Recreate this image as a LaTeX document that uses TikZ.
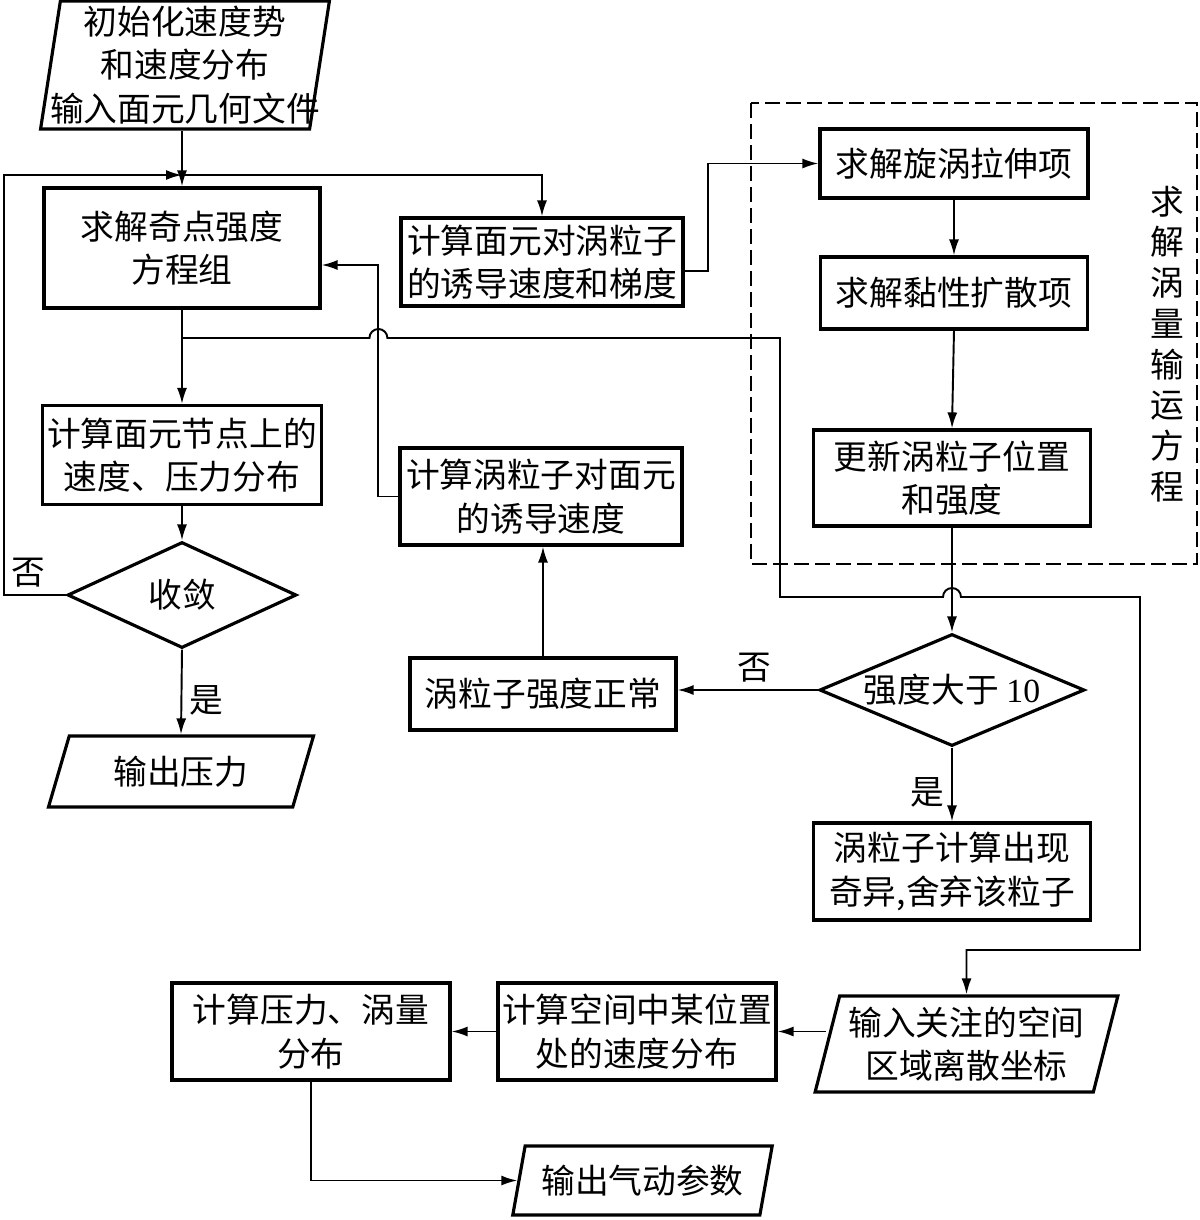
\documentclass[tikz,border=0pt]{standalone}
\usepackage{fontspec}
\setmainfont{Liberation Serif}
\newfontfamily\cjk{Noto Sans CJK SC}
\usetikzlibrary{arrows.meta,shapes.geometric}

\begin{document}
\begin{tikzpicture}[
    box/.style={draw,line width=0.9pt,align=center,inner sep=1pt,
        font=\cjk\fontsize{9.6pt}{12.4pt}\selectfont},
    io/.style={box,trapezium,trapezium left angle=#1,trapezium right angle={180-#1},
        trapezium stretches=true},
    cond/.style={box,diamond,aspect=2.3,inner sep=0pt},
    line/.style={line width=0.55pt},
    arr/.style={line,-{Latex[length=1.6mm,width=1mm]}},
    lbl/.style={font=\cjk\fontsize{9.6pt}{12pt}\selectfont,inner sep=2pt},
    dashbox/.style={line width=0.7pt,dash pattern=on 0.15cm off 0.06cm}
]
    \useasboundingbox (0,0) rectangle (12,-12.2);

    % Left column: panel solution
    \node[io=81,inner xsep=-0.17cm,inner ysep=0pt,minimum width=2.9cm,minimum height=1.28cm] (in1) at (1.85,-0.65)
        {初始化速度势\\和速度分布\\输入面元几何文件};
    \node[box,minimum width=2.76cm,minimum height=1.2cm] (solve) at (1.82,-2.48)
        {求解奇点强度\\方程组};
    \node[box,minimum width=2.79cm,minimum height=0.99cm] (nodal) at (1.82,-4.55)
        {计算面元节点上的\\速度、压力分布};
    \node[cond,minimum width=2.29cm,minimum height=1.06cm] (conv) at (1.82,-5.95) {收敛};
    \node[io=71,minimum width=2.66cm,minimum height=0.71cm] (outp) at (1.81,-7.715) {输出压力};

    % Middle column: induced velocities
    \node[box,minimum width=2.82cm,minimum height=0.88cm] (indv) at (5.42,-2.62)
        {计算面元对涡粒子\\的诱导速度和梯度};
    \node[box,minimum width=2.82cm,minimum height=0.97cm] (indp) at (5.41,-4.965)
        {计算涡粒子对面元\\的诱导速度};
    \node[box,minimum width=2.66cm,minimum height=0.72cm] (norm) at (5.43,-6.94)
        {涡粒子强度正常};

    % Right column: vorticity transport
    \node[box,minimum width=2.68cm,minimum height=0.69cm] (stretch) at (9.54,-1.635)
        {求解旋涡拉伸项};
    \node[box,minimum width=2.67cm,minimum height=0.72cm] (visc) at (9.54,-2.93)
        {求解黏性扩散项};
    \node[box,minimum width=2.77cm,minimum height=0.96cm] (upd) at (9.52,-4.78)
        {更新涡粒子位置\\和强度};
    \node[cond,minimum width=2.65cm,minimum height=1.12cm] (big) at (9.52,-6.90)
        {强度大于 {\rmfamily 10}};
    \node[box,minimum width=2.77cm,minimum height=0.97cm] (disc) at (9.52,-8.715)
        {涡粒子计算出现\\奇异,舍弃该粒子};

    % Dashed group and its title
    \draw[dashbox] (7.51,-1.03) rectangle (11.97,-5.64);
    \node[lbl,align=center,font=\cjk\fontsize{9.6pt}{11.6pt}\selectfont] (vlbl) at (11.67,-3.44)
        {求\\解\\涡\\量\\输\\运\\方\\程};

    % Bottom row: field output
    \node[io=74,minimum width=3.03cm,minimum height=0.96cm] (inreg) at (9.665,-10.44)
        {输入关注的空间\\区域离散坐标};
    \node[box,minimum width=2.78cm,minimum height=0.97cm] (spvel) at (6.37,-10.315)
        {计算空间中某位置\\处的速度分布};
    \node[box,minimum width=2.78cm,minimum height=0.97cm] (pres) at (3.11,-10.315)
        {计算压力、涡量\\分布};
    \node[io=74,minimum width=2.61cm,minimum height=0.69cm] (outa) at (6.425,-11.805)
        {输出气动参数};

    % Turning points
    \coordinate (j1) at (1.82,-1.75);
    \coordinate (lft) at (0.04,-1.75);
    \coordinate (j2) at (1.82,-3.38);
    \coordinate (v1) at ([xshift=-0.2cm]indp.west);
    \coordinate (t1) at (7.80,-3.38);
    \coordinate (t2) at (7.80,-5.97);
    \coordinate (t3) at (11.40,-5.97);
    \coordinate (t4) at (11.40,-9.50);

    % Iteration loop
    \draw[arr] (in1.south -| solve.north) -- (solve.north);
    \draw[arr] (conv.west) -| node[lbl,above,pos=0.3] (no1) {否} (lft) -- (j1);
    \draw[arr] (j1) -| (indv.north);
    \draw[arr] (solve.south) -- (nodal.north);
    \draw[arr] (nodal.south) -- (conv.north);
    \draw[arr] (conv.south) -- node[lbl,right,pos=0.6] (yes1) {是} (outp.north);

    % Vortex particle branch
    \draw[arr] ([yshift=-0.09cm]indv.east) -- ++(0.23,0) |- (stretch.west);
    \draw[arr] (stretch.south) -- (visc.north);
    \draw[arr] (visc.south) -- (upd.north);
    \draw[arr] (upd.south) -- (big.north);
    \draw[arr] (big.south) -- node[lbl,left,pos=0.6] (yes2) {是} (disc.north);
    \draw[arr] (big.west) -- node[lbl,above,pos=0.45] (no2) {否} (big.west -| norm.east);
    \draw[arr] (norm.north) -- (norm.north |- indp.south);
    \draw[arr] (indp.west) -- (v1) |- ([yshift=-0.17cm]solve.east);

    % Long link to the field output, with hops
    \draw[arr] (j2) -- ([xshift=-0.09cm]v1 |- j2) arc[start angle=180,end angle=0,radius=0.09cm]
        -- (t1) -- (t2) -- ([xshift=-0.09cm]upd.south |- t2) arc[start angle=180,end angle=0,radius=0.09cm]
        -- (t3) -- (t4) -| (inreg.north);
    \draw[arr] (spvel.east -| inreg.west) -- (spvel.east);
    \draw[arr] (spvel.west) -- (pres.east);
    \draw[arr] (pres.south) |- (outa.west);
\end{tikzpicture}
\end{document}
